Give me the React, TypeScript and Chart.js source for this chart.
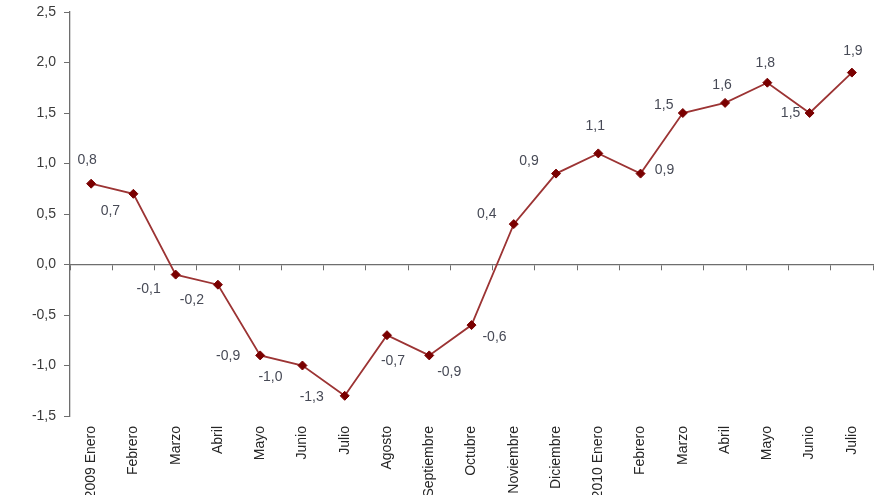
import React, { useEffect, useRef } from "react";
import { Chart, registerables } from "chart.js";

Chart.register(...registerables);

const categories = [
  "2009 Enero", "Febrero", "Marzo", "Abril", "Mayo", "Junio", "Julio", "Agosto",
  "Septiembre", "Octubre", "Noviembre", "Diciembre", "2010 Enero", "Febrero",
  "Marzo", "Abril", "Mayo", "Junio", "Julio",
];

const values = [0.8, 0.7, -0.1, -0.2, -0.9, -1.0, -1.3, -0.7, -0.9, -0.6, 0.4, 0.9, 1.1, 0.9, 1.5, 1.6, 1.8, 1.5, 1.9];

const yTicks = [-1.5, -1.0, -0.5, 0.0, 0.5, 1.0, 1.5, 2.0, 2.5];

// label offset relative to each point (dx, dy in px)
const labelOffsets: [number, number][] = [
  [-4, -24], [-23, 17], [-27, 15], [-26, 15], [-32, 1], [-32, 12], [-33, 1],
  [6, 26], [20, 17], [23, 12], [-27, -10], [-27, -12], [-3, -27], [24, -3],
  [-19, -8], [-3, -18], [-2, -20], [-19, 0], [1, -21],
];

const fmt = (v: number) => v.toFixed(1).replace(".", ",");

const FONT = "'Liberation Sans', Arial, sans-serif";

const dataLabelPlugin = {
  id: "dataLabels",
  afterDatasetsDraw(chart: any) {
    const ctx = chart.ctx;
    const meta = chart.getDatasetMeta(0);
    ctx.save();
    ctx.font = `14px ${FONT}`;
    ctx.fillStyle = "#474a56";
    ctx.textAlign = "center";
    ctx.textBaseline = "middle";
    meta.data.forEach((pt: any, i: number) => {
      const [dx, dy] = labelOffsets[i] || [0, -15];
      ctx.fillText(fmt(values[i]), pt.x + dx, pt.y + dy);
    });
    ctx.restore();
  },
};

export default function App() {
  const ref = useRef<HTMLCanvasElement>(null);
  useEffect(() => {
    if (!ref.current) return;
    const chart = new Chart(ref.current, {
      type: "line",
      data: {
        labels: categories,
        datasets: [
          {
            data: values,
            borderColor: "#9c3434",
            borderWidth: 1.8,
            pointStyle: "rectRot",
            pointRadius: 4.5,
            pointBackgroundColor: "#7a0000",
            pointBorderColor: "#7a0000",
            pointBorderWidth: 1,
            tension: 0,
            xAxisID: "x",
            yAxisID: "y",
          },
        ],
      },
      options: {
        animation: false,
        responsive: false,
        maintainAspectRatio: false,
        layout: { padding: { top: 12, right: 7, left: 0, bottom: 0 } },
        plugins: { legend: { display: false }, tooltip: { enabled: false } },
        scales: {
          x: {
            type: "category",
            position: "bottom",
            offset: true,
            grid: { display: false, drawTicks: false },
            border: { display: false },
            ticks: {
              autoSkip: false,
              minRotation: 90,
              maxRotation: 90,
              padding: 10,
              color: "#262626",
              font: { family: FONT, size: 14 },
            },
            afterFit: (scale: any) => {
              scale.height = 79;
            },
          },
          x0: {
            type: "category",
            position: { y: 0 },
            offset: true,
            grid: {
              offset: true,
              drawOnChartArea: false,
              drawTicks: true,
              tickLength: 5,
              color: "#6e6e6e",
              lineWidth: 1,
            },
            border: { display: true, color: "#6e6e6e", width: 1.3 },
            ticks: { display: false },
          },
          y: {
            type: "linear",
            min: -1.5,
            max: 2.5,
            afterBuildTicks: (scale: any) => {
              scale.ticks = yTicks.map((v) => ({ value: v }));
            },
            grid: {
              drawOnChartArea: false,
              drawTicks: true,
              tickLength: 6,
              color: "#6e6e6e",
            },
            border: { display: true, color: "#6e6e6e", width: 1.3 },
            ticks: {
              padding: 8,
              color: "#3a3a3a",
              font: { family: FONT, size: 14 },
              callback: (v: any) => fmt(Number(v)),
            },
            afterFit: (scale: any) => {
              scale.width = 70;
              scale.paddingTop = 0;
              scale.paddingBottom = 0;
            },
          },
        },
      },
      plugins: [dataLabelPlugin],
    } as any);
    return () => chart.destroy();
  }, []);
  return (
    <div style={{ position: "absolute", left: 0, top: 0, width: 880, height: 495, background: "#fff" }}>
      <canvas ref={ref} width={880} height={495} style={{ width: 880, height: 495, display: "block" }} />
    </div>
  );
}
